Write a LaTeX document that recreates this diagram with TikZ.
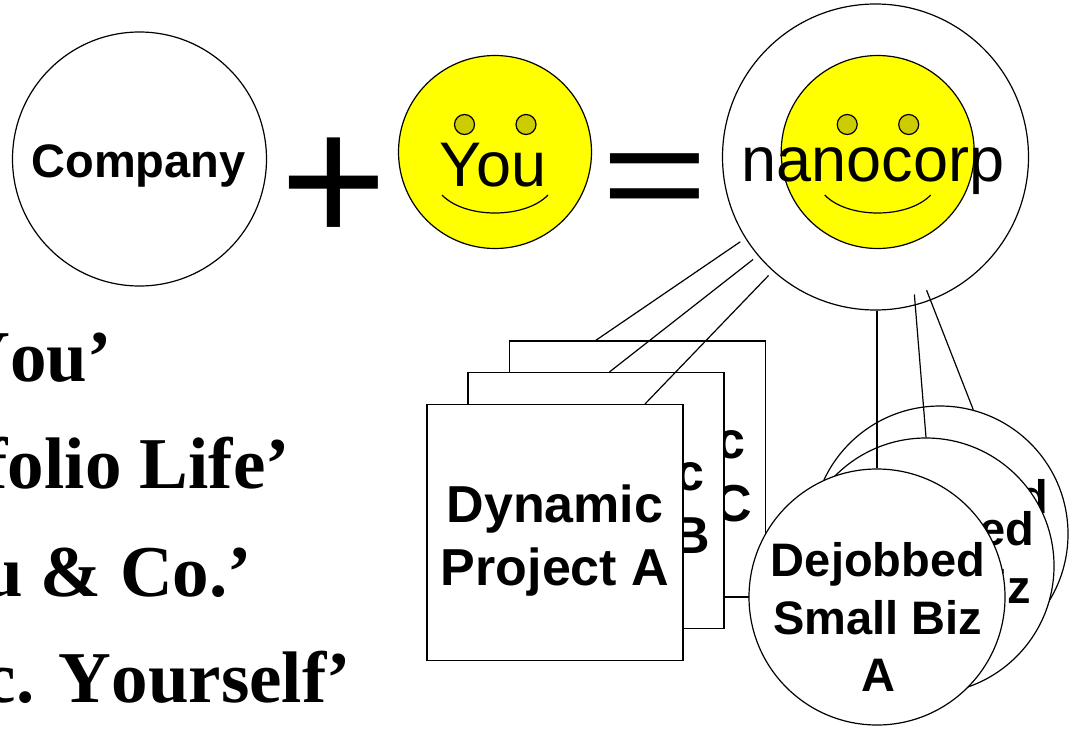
\documentclass[tikz,border=0pt]{standalone}
\usepackage{fontspec}
\setmainfont{Liberation Sans}
\newfontfamily\quotefont{Liberation Serif}[Kerning=Off]
\usepackage{tikz}
\usepackage{xcolor}
\definecolor{faceyellow}{HTML}{FFFF00}
\definecolor{eyeyellow}{HTML}{CCCC00}
\tikzset{ring/.style={circle,draw=black,fill=white,line width=1.2pt,inner sep=0pt},
 face/.style={circle,draw=black,fill=faceyellow,line width=1.2pt,inner sep=0pt,minimum size=193pt},
 sheet/.style={rectangle,draw=black,fill=white,line width=1.2pt,inner sep=0pt,
   minimum width=256pt,minimum height=256pt},
 biz/.style={ring,minimum size=256pt},
 wire/.style={draw=black,line width=1.2pt},
 cname/.style={font=\fontsize{47}{57.5}\selectfont\bfseries,inner sep=0pt,align=center},
 pname/.style={font=\fontsize{52}{63.3}\selectfont\bfseries,inner sep=0pt,align=center},
 bigtxt/.style={font=\fontsize{63}{70}\selectfont,inner sep=0pt,anchor=base},
 sym/.style={font=\fontsize{183}{190}\selectfont,inner sep=0pt,anchor=base},
 motto/.style={font=\quotefont\bfseries\fontsize{73}{80}\selectfont,inner sep=0pt,anchor=base east},
 smiley/.pic={
   \draw[fill=eyeyellow,line width=1.2pt] (-30.5,-27.5) circle[radius=10];
   \draw[fill=eyeyellow,line width=1.2pt] (31,-27.5) circle[radius=10];
   \draw[line width=1.2pt] (-53,43) .. controls (-30,67) and (30,67) .. (53,43);
 },
 }

\begin{document}
\begin{tikzpicture}[x=1pt,y=-1pt]
    \useasboundingbox (0,0) rectangle (1075,728);
    \node[ring,minimum size=254pt] (company) at (139.5,159) {};
    \node[cname,anchor=base] (companytxt) at (138.5,177) {Company};
    \node[sym] (plus) at (333.5,243) {+};
    \node[face] (you) at (495,152) {};
    \pic at (you) {smiley};
    \node[bigtxt] (youtxt) at (493,186.7) {You};
    \node[sym,yscale=0.767,transform shape] (equals) at (654.5,222.2) {=};
    \node[ring,minimum size=306pt] (nano) at (875.5,157) {};
    \node[face] (nanoface) at (877.7,152) {};
    \pic at (nanoface) {smiley};
    \node[bigtxt] (nanotxt) at (873,181.7) {nanocorp};

    \node[sheet] (sheetC) at (637.5,469) {};
    \node[pname] (projC) at (637.5,476.7) {Dynamic\\Project C};
    \node[sheet] (sheetB) at (596,500.5) {};
    \node[pname] (projB) at (596,508.2) {Dynamic\\Project B};
    \node[sheet] (sheetA) at (555,532.5) {};
    \node[pname] (projA) at (555,540.2) {Dynamic\\Project A};

    \node[biz] (bizC) at (940,534) {};
    \node[cname] (bizCtxt) at (941,554) {Dejobbed\\Small Biz\\C};
    \node[biz] (bizB) at (926,566) {};
    \node[cname] (bizBtxt) at (927,586) {Dejobbed\\Small Biz\\B};
    \node[biz] (bizA) at (877,597) {};
    \node[cname] (bizAtxt) at (878,617) {Dejobbed\\Small Biz\\A};

    \draw[wire,shorten <=6pt] (nano.212.8) -- (sheetC.108.8);
    \draw[wire,shorten <=6pt] (nano.220.8) -- (sheetB.84.1);
    \draw[wire,shorten <=6pt] (nano.228.9) -- (sheetA.55.9);
    \draw[wire] (bizA.north |- nano.south) -- (bizA.north);
    \draw[wire,shorten <=-11pt] (nano.285.4) -- (bizB.north);
    \draw[wire,shorten <=-11pt] (nano.291.5) -- (bizC.75.1);

    \node[motto] (mottoA) at (112,381.7) {You’};
    \node[motto] (mottoB) at (290,488.3) {folio Life’};
    \node[motto] (mottoC) at (252,596.7) {u \& Co.’};
    \node[motto] (mottoD) at (351,702) {c. Yourself’};
\end{tikzpicture}
\end{document}
